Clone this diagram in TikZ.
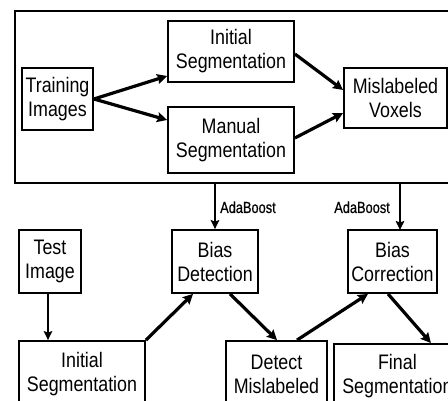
\documentclass[tikz,border=0pt]{standalone}
\usepackage{fontspec}
\setmainfont{Liberation Sans}[FakeStretch=0.85]
\newfontfamily\adafont{Liberation Sans}[FakeStretch=0.8,FakeBold=0.6]
\usetikzlibrary{arrows.meta,calc}
\begin{document}
\begin{tikzpicture}[x=1pt,y=-1pt,
  box/.style={draw,line width=1.8pt,rectangle,inner sep=0pt,align=center,
    font=\fontsize{21}{24}\selectfont},
  arr/.style={line width=3.2pt,-{Stealth[length=10pt,width=10pt,inset=1.5pt]}},
  varr/.style={line width=2.3pt,-{Stealth[length=9pt,width=8.5pt,inset=1.5pt]}},
  lbl/.style={inner sep=0pt,font=\adafont\fontsize{16}{18}\selectfont}]
\useasboundingbox (0,0) rectangle (448,401);
\clip (0,0) rectangle (448,401);
\node[draw,line width=2pt,minimum width=440pt,minimum height=172pt,inner sep=0pt,anchor=north west] (big) at (14,10) {};
\node[box,minimum width=71pt,minimum height=62pt] (train) at (57.5,99) {Training\\Images};
\node[box,minimum width=126pt,minimum height=61pt] (init1) at (231,51.5) {Initial\\Segmentation};
\node[box,minimum width=126pt,minimum height=66pt] (manual) at (231,140) {Manual\\Segmentation};
\node[box,minimum width=103pt,minimum height=60pt] (misl) at (395.5,98) {Mislabeled\\Voxels};
\node[box,minimum width=62pt,minimum height=63pt] (test) at (50,261.5) {Test\\Image};
\node[box,minimum width=86pt,minimum height=63pt] (bdet) at (215,261.5) {Bias\\Detection};
\node[box,minimum width=89pt,minimum height=63pt] (bcor) at (392.5,261.5) {Bias\\Correction};
\node[box,minimum width=126pt,minimum height=66pt] (init2) at (82,374) {Initial\\Segmentation};
\node[box,minimum width=101pt,minimum height=66pt] (detect) at (276.5,374) {Detect\\Mislabeled};
\node[box,minimum width=127pt,minimum height=64pt,anchor=north west] (final) at (333,343) {Final\\Segmentation};
\node[lbl,anchor=base west] (ada1) at (220,213) {AdaBoost};
\node[lbl,anchor=base east] (ada2) at (390,213) {AdaBoost};
\coordinate (ctop) at (400,182);
\coordinate (cbot) at (400,230);
\draw[arr] (train.east) -- ($(init1.west)+(0,24.5)$);
\draw[arr] (train.east) -- ($(manual.west)+(0,-20)$);
\draw[arr] ($(init1.east)+(0,2.5)$) -- ($(misl.west)+(0,-8)$);
\draw[arr] ($(manual.east)+(0,-2)$) -- ($(misl.west)+(0,15)$);
\draw[varr] (bdet.north |- big.south) -- (bdet.north);
\draw[varr] (ctop) -- (cbot);
\draw[varr] ($(test.south)+(-2,0)$) -- ($(init2.north)+(-34,0)$);
\draw[arr] (init2.north east) -- ($(bdet.south)+(-22,0)$);
\draw[arr] ($(bdet.south)+(15,0)$) -- ($(detect.north)+(0.5,0)$);
\draw[arr] ($(detect.north)+(20.5,0)$) -- ($(bcor.south)+(-24.5,0)$);
\draw[arr] ($(bcor.south)+(-4.5,0)$) -- ($(final.north)+(33.5,0)$);
\end{tikzpicture}
\end{document}
